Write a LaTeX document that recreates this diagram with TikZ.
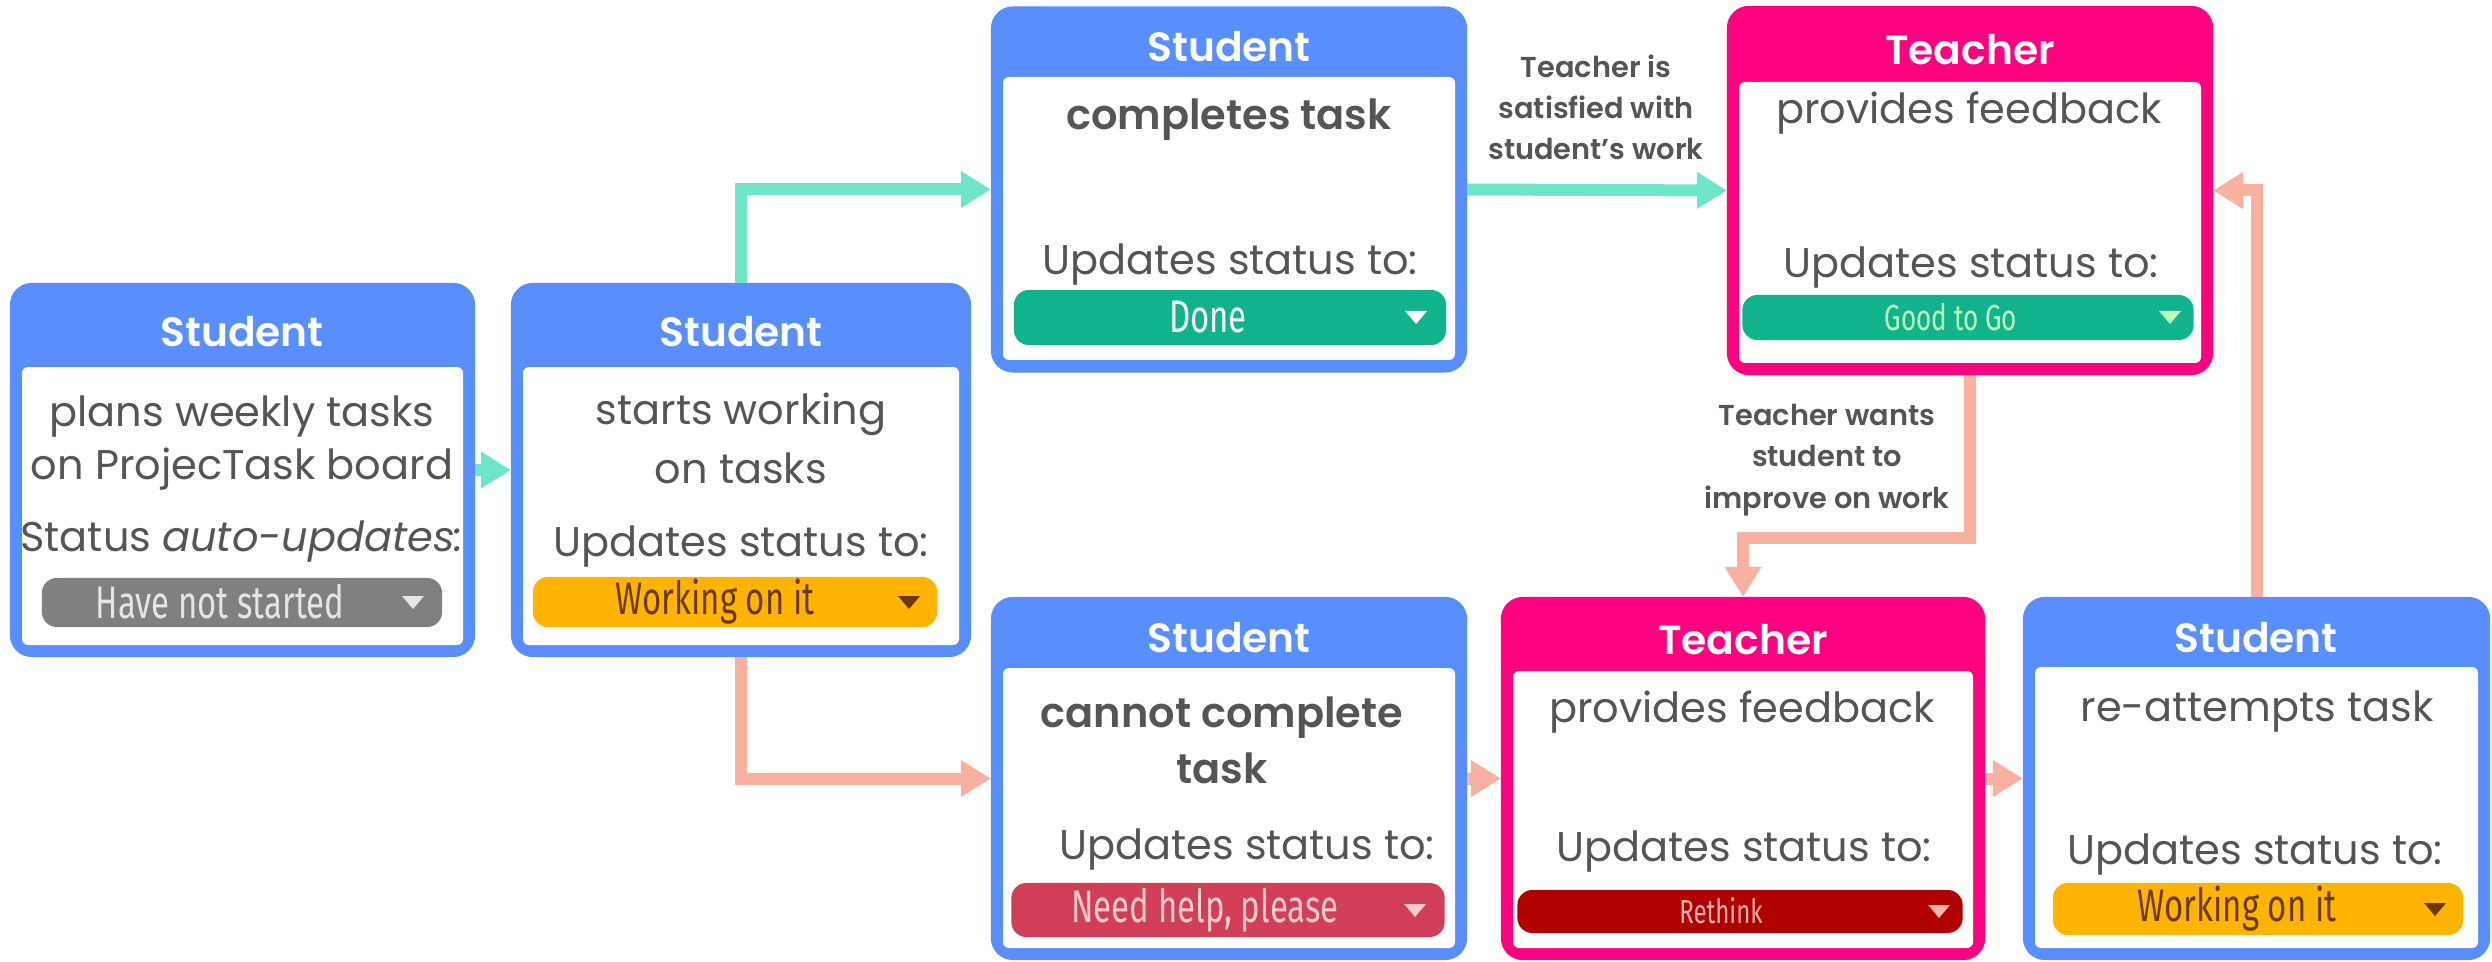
\documentclass[tikz,border=0pt]{standalone}
\usepackage{fontspec}
\setmainfont{Poppins}[BoldFont=* SemiBold]
\newfontfamily\pillfont[FakeStretch=0.72]{Fira Sans}
\usetikzlibrary{arrows.meta}

\definecolor{stublue}{RGB}{89,142,255}
\definecolor{teachpink}{RGB}{255,0,128}
\definecolor{gocolor}{RGB}{110,229,200}
\definecolor{backcolor}{RGB}{248,176,160}
\definecolor{inkgrey}{RGB}{85,85,85}
\definecolor{pillgrey}{RGB}{128,128,128}
\definecolor{pillorange}{RGB}{255,180,0}
\definecolor{pillgreen}{RGB}{17,179,140}
\definecolor{pillred}{RGB}{208,62,88}
\definecolor{pilldark}{RGB}{176,0,0}
\definecolor{brownink}{RGB}{107,58,0}

\tikzset{
  card/.style={rectangle, rounded corners=0.22cm, inner sep=0, outer sep=0, fill=#1},
  head/.style={text=white, font=\bfseries\fontsize{11.6}{14}\selectfont},
  body/.style={text=inkgrey, align=center, font=\fontsize{11.8}{16}\selectfont},
  pill/.style={rectangle, rounded corners=0.15cm, inner sep=0, outer sep=0, fill=#1},
  pilltext/.style={font=\pillfont\fontsize{13}{14}\selectfont},
  cond/.style={text=inkgrey, align=center, font=\bfseries\fontsize{8.2}{11.7}\selectfont},
  flowgo/.style={draw=gocolor, line width=0.12cm, -{Triangle[width=0.35cm,length=0.3cm]}},
  flowback/.style={draw=backcolor, line width=0.12cm, -{Triangle[width=0.35cm,length=0.3cm]}}
}
% little drop-down mark of a status pill
\newcommand{\dropmark}[2]{\fill[#2] (#1) ++(-11,-6) -- ++(22,0) -- ++(-11,13) -- cycle;}

\begin{document}
\begin{tikzpicture}[x=0.01cm,y=-0.01cm]
  \useasboundingbox (0,0) rectangle (2492,961);

  % student plans
  \node[card=stublue, minimum width=4.65cm, minimum height=3.74cm] (plan) at (242.5,470) {};
  \fill[white, rounded corners=0.06cm] (22,367) rectangle (463,645);
  \node[head] (planhead) at (242,332) {Student};
  \node[body, font=\fontsize{11.8}{15.1}\selectfont] (plantxt) at (242,443) {plans weekly tasks\\on ProjecTask board};
  \node[body] (planstat) at (242,542) {Status \textit{auto-updates:}};
  \node[pill=pillgrey, minimum width=4cm, minimum height=0.49cm] (planpill) at (242,602.5) {};
  \node[pilltext, text=white!90!black] (planval) at (220,602) {Have not started};
  \dropmark{413,602}{white!90!black}

  % student works
  \node[card=stublue, minimum width=4.6cm, minimum height=3.74cm] (work) at (741,470) {};
  \fill[white, rounded corners=0.06cm] (523,367) rectangle (959,645);
  \node[head] (workhead) at (741,332) {Student};
  \node[body, font=\fontsize{11.8}{16.8}\selectfont] (worktxt) at (741,438) {starts working\\on tasks};
  \node[body] (workstat) at (741,547) {Updates status to:};
  \node[pill=pillorange, minimum width=4.04cm, minimum height=0.5cm] (workpill) at (735,602) {};
  \node[pilltext, text=brownink] (workval) at (715,602) {Working on it};
  \dropmark{909,602}{brownink}

  % student completes
  \node[card=stublue, minimum width=4.76cm, minimum height=3.66cm] (done) at (1229,189.5) {};
  \fill[white, rounded corners=0.06cm] (1003,77) rectangle (1455,360);
  \node[head] (donehead) at (1229,47) {Student};
  \node[body, font=\bfseries\fontsize{11.8}{16}\selectfont] (donetxt) at (1229,120) {completes task};
  \node[body] (donestat) at (1230,265) {Updates status to:};
  \node[pill=pillgreen, minimum width=4.32cm, minimum height=0.55cm] (donepill) at (1230,317.5) {};
  \node[pilltext, text=white] (doneval) at (1208,317) {Done};
  \dropmark{1416,317}{white}

  % teacher is happy
  \node[card=teachpink, minimum width=4.86cm, minimum height=3.69cm] (good) at (1970,190.5) {};
  \fill[white, rounded corners=0.06cm] (1739,82) rectangle (2201,363);
  \node[head] (goodhead) at (1970,50) {Teacher};
  \node[body] (goodtxt) at (1969,113) {provides feedback};
  \node[body] (goodstat) at (1971,268) {Updates status to:};
  \node[pill=pillgreen, minimum width=4.51cm, minimum height=0.45cm] (goodpill) at (1968,317.5) {};
  \node[pilltext, text=green!25!white, font=\pillfont\fontsize{10.3}{12}\selectfont] (goodval) at (1951,317) {Good to Go};
  \dropmark{2170,317}{green!25!white}

  % student is stuck
  \node[card=stublue, minimum width=4.76cm, minimum height=3.63cm] (help) at (1229,778.5) {};
  \fill[white, rounded corners=0.06cm] (1003,668) rectangle (1455,948);
  \node[head] (helphead) at (1229,638) {Student};
  \node[body, font=\bfseries\fontsize{11.8}{16}\selectfont] (helptxt) at (1222,740) {cannot complete\\task};
  \node[body] (helpstat) at (1247,850) {Updates status to:};
  \node[pill=pillred, minimum width=4.33cm, minimum height=0.54cm] (helppill) at (1228,910) {};
  \node[pilltext, text=red!20!white] (helpval) at (1205,910) {Need help, please};
  \dropmark{1415,910}{red!20!white}

  % teacher asks again
  \node[card=teachpink, minimum width=4.84cm, minimum height=3.63cm] (rethink) at (1743,778.5) {};
  \fill[white, rounded corners=0.06cm] (1513,671) rectangle (1973,948);
  \node[head] (rethinkhead) at (1743,640) {Teacher};
  \node[body] (rethinktxt) at (1742,712) {provides feedback};
  \node[body] (rethinkstat) at (1744,852) {Updates status to:};
  \node[pill=pilldark, minimum width=4.45cm, minimum height=0.43cm] (rethinkpill) at (1740,911.5) {};
  \node[pilltext, text=red!30!white, font=\pillfont\fontsize{9.5}{12}\selectfont] (rethinkval) at (1721,911) {Rethink};
  \dropmark{1939,911}{red!30!white}

  % student tries again
  \node[card=stublue, minimum width=4.67cm, minimum height=3.63cm] (retry) at (2256.5,778.5) {};
  \fill[white, rounded corners=0.06cm] (2035,667) rectangle (2478,948);
  \node[head] (retryhead) at (2256,638) {Student};
  \node[body] (retrytxt) at (2257,712) {re-attempts task};
  \node[body] (retrystat) at (2255,855) {Updates status to:};
  \node[pill=pillorange, minimum width=4.1cm, minimum height=0.52cm] (retrypill) at (2258,909) {};
  \node[pilltext, text=brownink] (retryval) at (2237,909) {Working on it};
  \dropmark{2435,909}{brownink}

  % connectors
  \coordinate (fbk) at (1850,538);
  \draw[flowgo] (plan.east) -- (work.west);
  \draw[flowgo] (work.north) |- (done.west);
  \draw[flowgo] (done.east) -- (good.west);
  \draw[flowback] (work.south) |- (help.west);
  \draw[flowback] (help.east) -- (rethink.west);
  \draw[flowback] (rethink.east) -- (retry.west);
  \draw[flowback] (good.south) |- (fbk) -| (rethink.north);
  \draw[flowback] (retry.north) |- (good.east);

  \node[cond] (happy) at (1596,107) {Teacher is\\satisfied with\\student’s work};
  \node[cond] (improve) at (1827,460) {Teacher wants\\student to\\improve on work};
\end{tikzpicture}
\end{document}
